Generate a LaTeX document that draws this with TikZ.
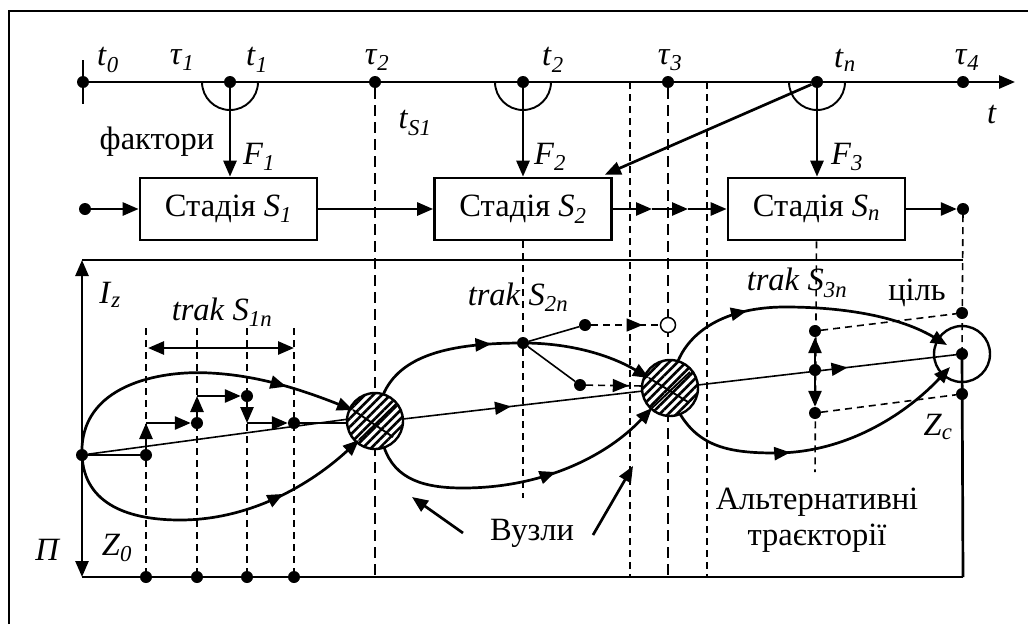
\documentclass[tikz,border=0pt]{standalone}
\usepackage{fontspec}
\setmainfont{Liberation Serif}
\usetikzlibrary{arrows.meta,patterns.meta,decorations.markings,calc}
\newcommand\ivar[2]{\textit{#1}\textsubscript{\textit{#2}}}
\tikzset{
  thickline/.style={line width=2.7pt},
  thinline/.style={line width=1.6pt},
  dot/.style={circle,fill=black,inner sep=0pt,minimum size=12pt},
  odot/.style={circle,draw,fill=white,line width=1.5pt,inner sep=0pt,minimum size=15pt},
  stagebox/.style={draw,line width=2.7pt,minimum width=177pt,minimum height=62pt,inner sep=0pt},
  arr/.style={-{Triangle[length=16pt,width=13pt]}},
  darr/.style={{Triangle[length=16pt,width=13pt]}-{Triangle[length=16pt,width=13pt]}},
  hub/.style={circle,draw,line width=2.4pt,minimum size=56pt,inner sep=0pt,
    preaction={fill=white},pattern={Lines[angle=45,distance=6pt,line width=2.6pt]}},
  target/.style={circle,draw,line width=2.4pt,minimum size=56pt,inner sep=0pt},
  ldash/.style={line width=1.7pt,dash pattern=on 11pt off 6pt},
  sdash/.style={line width=1.6pt,dash pattern=on 7pt off 5pt},
  midarrow/.style={postaction={decorate},decoration={markings,
    mark=at position #1 with {\arrow{Triangle[length=16pt,width=13pt]}}}},
  lab/.style={inner sep=0pt},
}
\begin{document}
\begin{tikzpicture}[x=1pt,y=-1pt,font=\fontsize{32.5}{35}\selectfont]
\useasboundingbox (0,0) rectangle (1028,624);
% outer frame (only top and left edges visible)
\draw[line width=1.8pt] (9,624) -- (9,11) -- (1028,11);

% ---------------- time axis ----------------
\coordinate (tstart) at (83,82);
\coordinate (tend) at (1015,82);
\coordinate (tickA) at (83,60);
\coordinate (tickB) at (83,104);
\draw[thickline,arr] (tstart) -- (tend);
\draw[thickline] (tickA) -- (tickB);
\node[dot] (d0) at (83,82) {};
\node[dot] (d1) at (230,82) {};
\node[dot] (dtau2) at (375,82) {};
\node[dot] (d2) at (523,82) {};
\node[dot] (dtau3) at (668,82) {};
\node[dot] (dn) at (817,82) {};
\node[dot] (dtau4) at (963,82) {};
\foreach \p in {d1,d2,dn}{
  \draw[line width=1.9pt] ($(\p.center)+(-28,0)$) arc[start angle=180,end angle=0,radius=28];
}
\node[lab] at (108,60) {\ivar{t}{0}};
\node[lab] at (182,60) {\ivar{τ}{1}};
\node[lab] at (257,60) {\ivar{t}{1}};
\node[lab] at (377,60) {\ivar{τ}{2}};
\node[lab] at (553,60) {\ivar{t}{2}};
\node[lab] at (670,60) {\ivar{τ}{3}};
\node[lab] at (845,60) {\ivar{t}{n}};
\node[lab] at (967,60) {\ivar{τ}{4}};
\node[lab] at (992,115) {\textit{t}};
\node[lab] at (415,123) {\ivar{t}{S1}};

% ---------------- stages ----------------
\node[stagebox] (S1) at (228.5,209) {Стадія \ivar{S}{1}};
\node[stagebox] (S2) at (523,209) {Стадія \ivar{S}{2}};
\node[stagebox] (Sn) at (816.5,209) {Стадія \ivar{S}{n}};
\node[dot] (in) at (85,209) {};
\node[dot] (out) at (963,209) {};
\coordinate (q1) at (652,209);
\coordinate (q2) at (688,209);
\coordinate (diagend) at ($(S2.north east)+(-8,-2)$);

\draw[thickline,arr] (d1) -- (d1 |- S1.north);
\draw[thickline,arr] (d2) -- (d2 |- S2.north);
\draw[thickline,arr] (dn) -- (dn |- Sn.north);
\draw[thickline,arr] (dn) -- (diagend);
\node[lab] at (157,142) {фактори};
\node[lab] at (259,157) {\ivar{F}{1}};
\node[lab] at (550,157) {\ivar{F}{2}};
\node[lab] at (847,157) {\ivar{F}{3}};

\draw[thickline,arr] (in) -- (S1.west);
\draw[thickline,arr] (S1.east) -- (S2.west);
\draw[thickline,arr] (S2.east) -- (q1);
\draw[thickline,arr] (q1) -- (q2);
\draw[thickline,arr] (q2) -- (Sn.west);
\draw[thickline,arr] (Sn.east) -- (out);

% ---------------- lower frame ----------------
\coordinate (LT) at (82,260);
\coordinate (LB) at (82,577);
\coordinate (RT) at (963,260);
\coordinate (RB) at (963,577);
\draw[thickline] (LT) -- (RT);
\draw[thickline] (LB) -- (RB);
\draw[thickline,darr] (LT) -- (LB);

% long vertical dashed lines
\coordinate (v1b) at (375,577);
\coordinate (v2t) at (630,82);
\coordinate (v2b) at (630,577);
\coordinate (v3b) at (668,577);
\coordinate (v4t) at (707,82);
\coordinate (v4b) at (707,577);
\draw[ldash] (dtau2) -- (v1b);
\draw[sdash] (v2t) -- (v2b);
\draw[ldash] (dtau3) -- (v3b);
\draw[sdash] (v4t) -- (v4b);

\node[lab] at (110,295) {\ivar{I}{z}};
\node[lab] at (48,550) {\textit{П}};
\node[lab] at (117,548) {\ivar{Z}{0}};

% ---------------- stage 1 tracks ----------------
\node[lab] at (222,312) {\textit{trak} \ivar{S}{1n}};
\foreach \x/\n in {146/a,197/b,247/c,294/d}{
  \coordinate (top\n) at (\x,328);
  \node[dot] (bot\n) at (\x,577) {};
  \draw[sdash] (top\n) -- (bot\n);
}
\coordinate (w1) at (148,348);
\coordinate (w2) at (294,348);
\draw[thickline,darr] (w1) -- (w2);

\node[hub] (N1) at (375,421) {};
\node[hub] (N2) at (670,388) {};
\node[target] (T) at (962,354) {};

\node[dot] (s0) at (82,455) {};
\node[dot] (a0) at (146,455) {};
\node[dot] (a1) at (197,423) {};
\node[dot] (a2) at (247,396) {};
\node[dot] (a3) at (294,423) {};
\coordinate (c0) at (146,423);
\coordinate (c1) at (197,396);
\coordinate (c2) at (247,423);
\coordinate (n1w) at (348,423);
\coordinate (n1in) at (349,419);

\draw[thinline] (s0) -- (a0);
\draw[thinline] (s0) -- (n1in);
\draw[thinline] (a3) -- (n1w);
\draw[thickline,arr] (a0) -- (c0);
\draw[thickline,arr] (c0) -- (a1);
\draw[thickline,arr] (a1) -- (c1);
\draw[thickline,arr] (c1) -- (a2);
\draw[thickline,arr] (a2) -- (c2);
\draw[thickline,arr] (c2) -- (a3);

% loop 1
\coordinate (n1ul) at (353,410);
\coordinate (n1ll) at (359,440);
\draw[thickline,midarrow=0.78,arr] (s0.center) .. controls (79,385) and (160,370) .. (210,373)
   .. controls (250,375) and (290,385) .. (n1ul);
\draw[thickline,midarrow=0.72,arr] (s0.center) .. controls (84,505) and (130,520) .. (180,520)
   .. controls (250,520) and (310,485) .. (n1ll);
\coordinate (x1a) at (393,437);
\coordinate (x1b) at (396,404);
\draw[line width=1.9pt] (n1ul) -- (x1a);
\draw[line width=1.9pt] (n1ll) -- (x1b);

% ---------------- stage 2 ----------------
\node[lab] at (518,297) {\textit{trak} \ivar{S}{2n}};
\coordinate (m0bot) at (523,498);
\draw[sdash] (S2.south) -- (m0bot);
\node[dot] (m0) at (523,343) {};
\node[dot] (m1) at (585,325) {};
\node[dot] (m2) at (580,385) {};
\node[odot] (oc) at (668,325) {};
\coordinate (n2ul) at (649,378);
\coordinate (n2w) at (643,386);
\coordinate (n2mid) at (643,391);
\coordinate (n2ll) at (652,408);
\coordinate (n1top) at (383,395);
\coordinate (n1e) at (403,419);
\coordinate (n1bot) at (384,447);
\draw[thickline,midarrow=0.8] (n1top) .. controls (400,355) and (450,343) .. (m0.center);
\draw[thickline,arr] (m0.center) .. controls (570,343) and (610,355) .. (n2ul);
\draw[thinline,midarrow=0.45] (n1e) -- (n2mid);
\draw[thickline,midarrow=0.62,arr] (n1bot) .. controls (395,480) and (425,488) .. (463,488)
   .. controls (540,488) and (605,458) .. (n2ll);
\draw[thinline] (m0) -- (m1);
\draw[thinline] (m0) -- (m2);
\draw[sdash,midarrow=0.75] (m1) -- (oc);
\draw[sdash,midarrow=0.75] (m2) -- (n2w);
\coordinate (x2a) at (688,402);
\coordinate (x2b) at (690,372);
\draw[line width=1.9pt] (n2ul) -- (x2a);
\draw[line width=1.9pt] (n2ll) -- (x2b);

% Вузли
\node[lab] (vz) at (532,533) {Вузли};
\coordinate (vzl) at (463,533);
\coordinate (vzr) at (593,535);
\coordinate (vzlt) at (412,497);
\coordinate (vzrt) at (633,466);
\draw[thickline,arr] (vzl) -- (vzlt);
\draw[thickline,arr] (vzr) -- (vzrt);

% ---------------- stage 3 ----------------
\node[lab] at (797,283) {\textit{trak} \ivar{S}{3n}};
\node[lab] at (917,293) {ціль};
\node[lab] at (938,427) {\ivar{Z}{c}};
\coordinate (r0bot) at (815,472);
\draw[sdash] (Sn.south) -- (r0bot);
\node[dot] (r0) at (815,331) {};
\node[dot] (r1) at (815,370) {};
\node[dot] (r2) at (815,413) {};
\node[dot] (td) at (962,354) {};
\node[dot] (ra) at (962,313) {};
\node[dot] (rb) at (962,394) {};
\draw[sdash] (out) -- (td);
\draw[thickline] (td) -- (RB);
\draw[sdash] (r0) -- (ra);
\draw[sdash] (r2) -- (rb);
\draw[thickline,arr] (r1) -- (r0);
\draw[thickline,arr] (r1) -- (r2);
\coordinate (n2top) at (678,361);
\coordinate (n2e) at (698,385);
\coordinate (n2bot) at (680,414);
\coordinate (tul) at (947,345);
\coordinate (tll) at (950,367);
\draw[thickline,midarrow=0.3,arr] (n2top) .. controls (692,328) and (730,307) .. (785,307)
   .. controls (855,307) and (905,320) .. (tul);
\draw[thinline,midarrow=0.58] (n2e) -- (td);
\draw[thickline,midarrow=0.4,arr] (n2bot) .. controls (700,447) and (730,453) .. (775,453)
   .. controls (850,453) and (910,410) .. (tll);

\node[lab] at (817,502) {Альтернативні};
\node[lab] at (817,538) {траєкторії};
\end{tikzpicture}
\end{document}
